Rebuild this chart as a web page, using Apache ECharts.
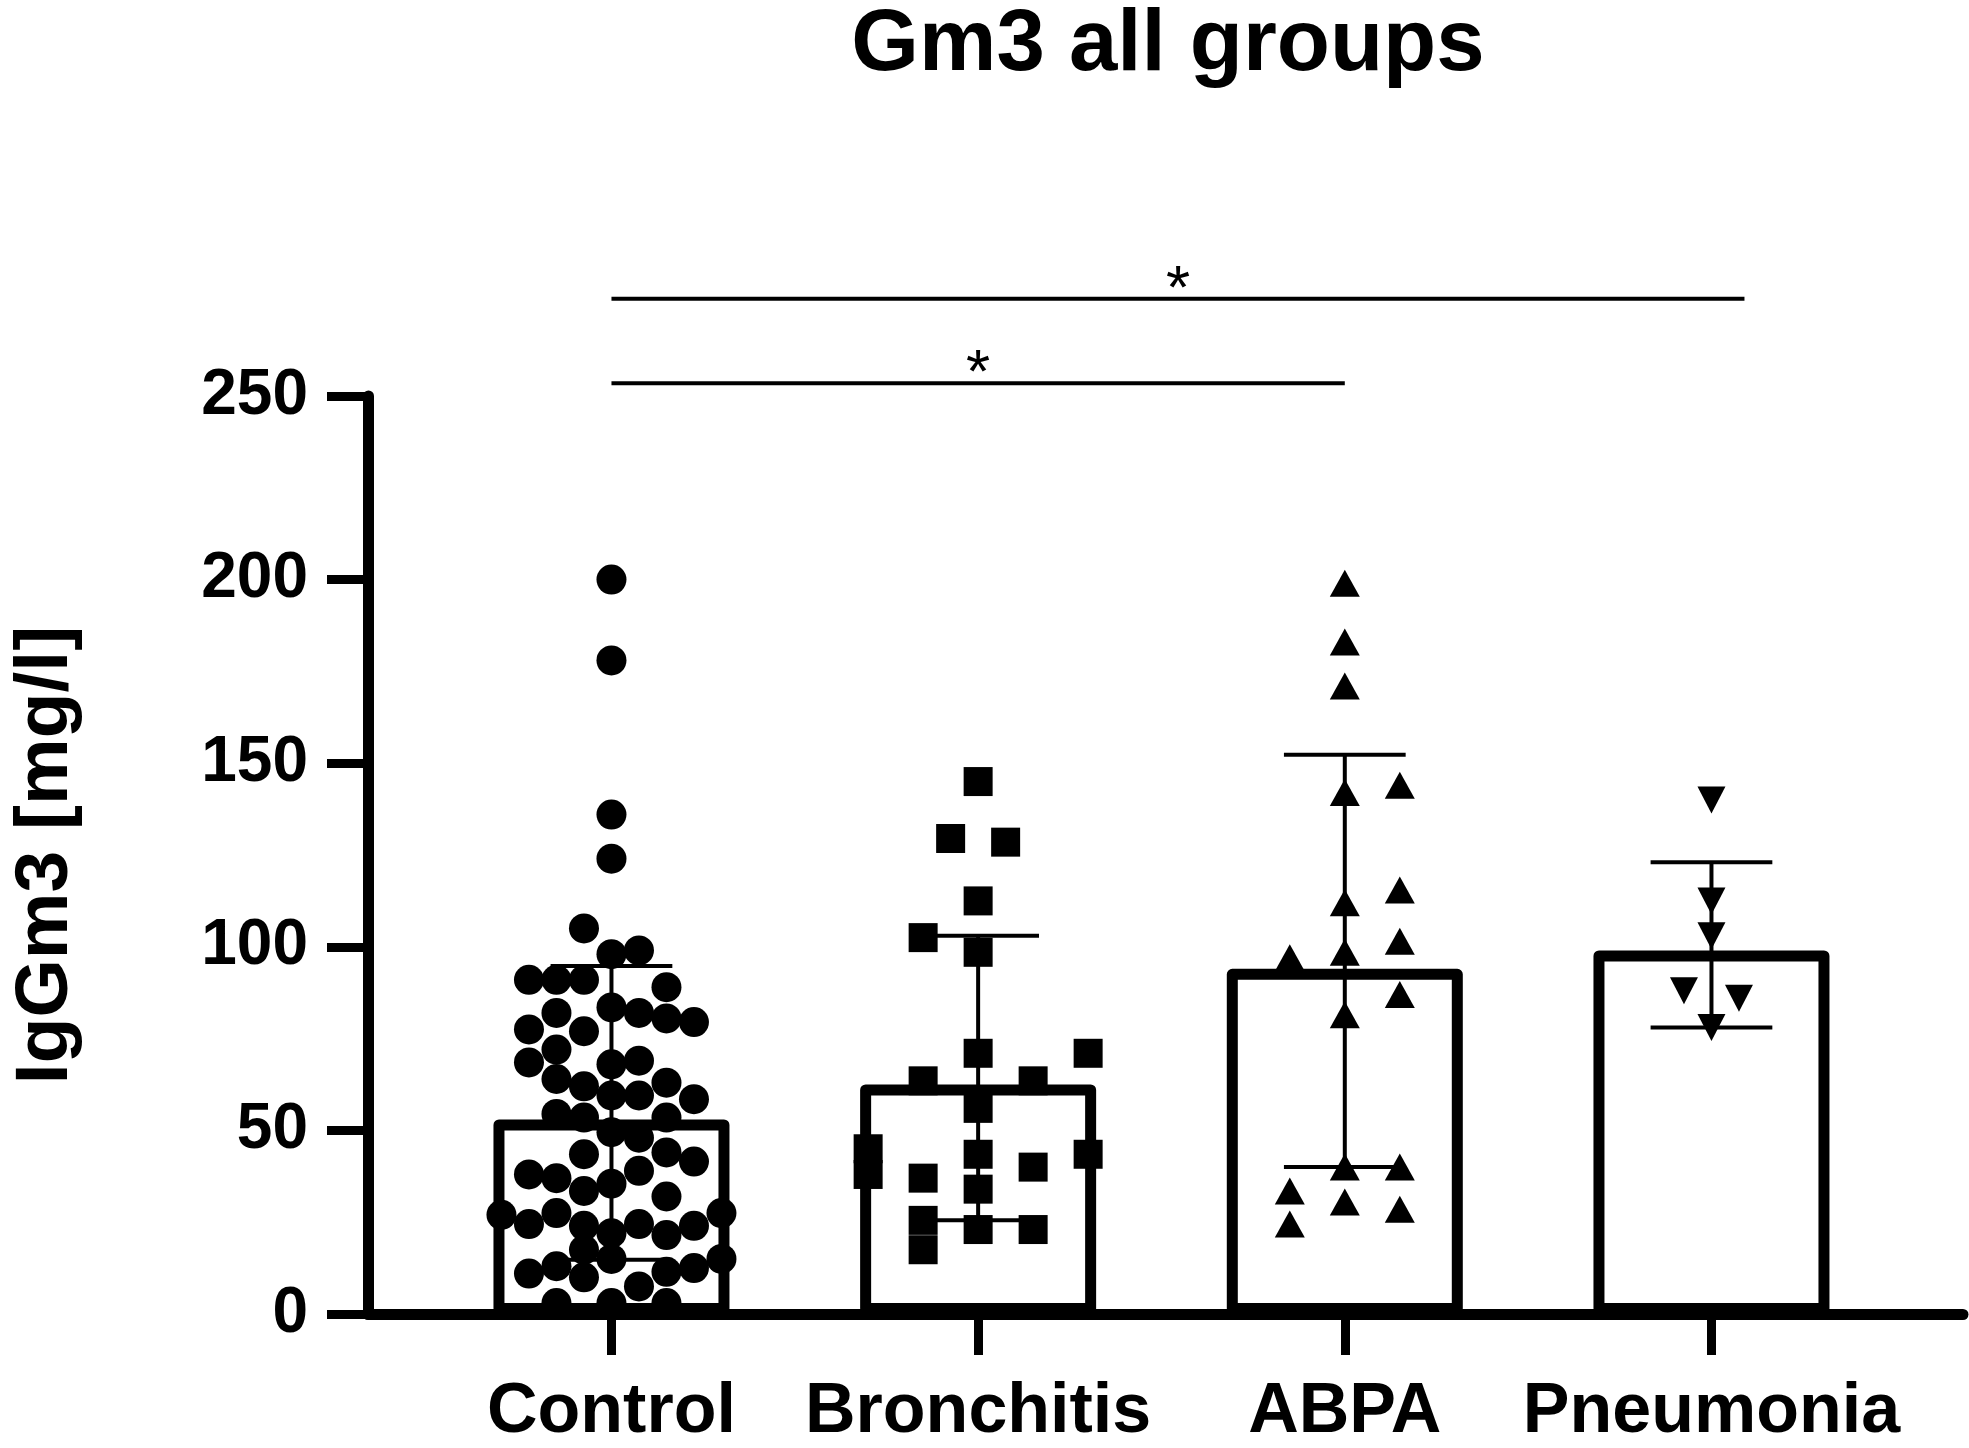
<!DOCTYPE html>
<html>
<head>
<meta charset="utf-8">
<title>Gm3 all groups</title>
<script src="https://cdn.jsdelivr.net/npm/echarts/dist/echarts.min.js"></script>
<style>
    html, body { margin: 0; padding: 0; background: #fff; }
    #echarts { width: 1969px; height: 1448px; }
</style>
</head>
<body>
<div id="echarts"></div>
<script>
    // groups on the x axis (value axis, one unit per group)
    var groups = ['Control', 'Bronchitis', 'ABPA', 'Pneumonia']
    var yTicks = [0, 50, 100, 150, 200, 250]

    // bar = mean, whiskers = lower / upper end of the error bar
    var means = [53, 62.5, 94, 99]
    var errLow = [14.8, 25.5, 40, 78]
    var errHigh = [94.8, 103, 152.3, 123]

    // individual points: [column slot, value]
    var controlPts = [
        [0, 200], [0, 178], [0, 136], [0, 124], [-1, 105],
        [0, 98], [1, 99],
        [-3, 91], [-2, 91], [-1, 91], [2, 89],
        [0, 83.5], [1, 82], [2, 80.5], [-2, 82], [3, 79.5],
        [-3, 77.5], [-1, 77], [-2, 72],
        [-3, 68.5], [0, 68], [1, 69],
        [-2, 64], [2, 63],
        [-1, 62], [0, 59.5], [1, 59.5], [3, 58.5],
        [-2, 54.5], [-1, 53.5], [2, 53.5],
        [0, 49.5], [1, 48],
        [-1, 43.5], [2, 44], [3, 41.5],
        [1, 39], [-3, 38], [-2, 37],
        [0, 35.5], [-1, 33.5], [2, 32],
        [-4, 27], [-3, 24.5], [-2, 27.5], [-1, 24], [0, 22], [1, 24.5], [2, 21.5], [3, 24], [4, 27.5],
        [-1, 17.5],
        [-3, 11], [-2, 13], [0, 15], [1, 7.5], [2, 11.5], [3, 12.5], [4, 15], [-1, 10],
        [-2, 3], [0, 3], [2, 3]
    ]
    var bronchitisPts = [
        [0, 145], [-1, 129.5], [1, 128.5], [0, 112.5], [-2, 102.5], [0, 98.5],
        [0, 71], [4, 71], [-2, 63.5], [2, 63.5], [0, 56],
        [-4, 45], [-4, 38], [0, 43.5], [-2, 37], [2, 40], [4, 43.5], [0, 34],
        [-2, 25.5], [-2, 17.5], [0, 23], [2, 23]
    ]
    var abpaPts = [
        [0, 199], [0, 183], [0, 171], [2, 144], [0, 142], [2, 115.5], [0, 112],
        [2, 101.5], [0, 98.5], [-2, 97], [2, 87], [0, 81.5],
        [0, 40], [2, 40], [-2, 33.5], [0, 30.5], [2, 28.5], [-2, 24.5]
    ]
    var pneumoniaPts = [
        [0, 140], [0, 112.5], [0, 103], [-1, 88], [1, 86], [0, 78]
    ]

    // significance brackets: [from group, to group, level]
    var sigLines = [
        [0, 3.09, 276.5],
        [0, 2, 253.5]
    ]
    var sigLabels = ['*', '*']

    var FONT = "'Liberation Sans', Arial, sans-serif"
    var SLOT = 0.075      // width of one point column, in group units
    var CAP = 0.166       // half width of the error bar caps

    var chart = echarts.init(document.getElementById('echarts'))

    var toXY = function (pts, gi) {
        return pts.map(function (p) {
            return [gi + p[0] * SLOT, p[1]]
        })
    }

    var pointSeries = function (name, pts, gi, symbol, size, rotate) {
        return {
            name: name,
            type: 'scatter',
            z: 5,
            symbol: symbol,
            symbolSize: size,
            symbolRotate: rotate || 0,
            itemStyle: { color: '#000', opacity: 1 },
            data: toXY(pts, gi)
        }
    }

    var option = {
        animation: false,
        backgroundColor: '#fff',
        title: {
            text: 'Gm3 all groups',
            left: 1163,
            top: -2,
            textAlign: 'center',
            textStyle: { fontFamily: FONT, fontSize: 87, fontWeight: 'bold', color: '#000' }
        },
        grid: { left: 368, right: 6, top: 396, bottom: 123 },
        xAxis: {
            type: 'value',
            min: -0.664,
            max: 3.686,
            splitLine: { show: false },
            axisLine: { onZero: false, lineStyle: { color: '#000', width: 11 } },
            axisTick: { customValues: [0, 1, 2, 3], length: 41, lineStyle: { color: '#000', width: 9 } },
            axisLabel: {
                customValues: [0, 1, 2, 3],
                margin: 64,
                formatter: function (v) { return groups[Math.round(v)] },
                fontFamily: FONT, fontSize: 70, fontWeight: 'bold', color: '#000'
            }
        },
        yAxis: {
            type: 'value',
            min: 0,
            max: 250,
            interval: 50,
            name: 'IgGm3 [mg/l]',
            nameLocation: 'middle',
            nameRotate: 90,
            nameGap: 284,
            nameTextStyle: { fontFamily: FONT, fontSize: 75, fontWeight: 'bold', color: '#000' },
            splitLine: { show: false },
            axisLine: { show: true, onZero: false, lineStyle: { color: '#000', width: 11 } },
            axisTick: { show: true, length: 41, lineStyle: { color: '#000', width: 9 } },
            axisLabel: {
                margin: 60,
                formatter: function (v) { return yTicks.indexOf(v) > -1 ? String(v) : '' },
                fontFamily: FONT, fontSize: 64, fontWeight: 'bold', color: '#000'
            }
        },
        series: [
            {
                name: 'mean',
                type: 'bar',
                z: 2,
                barWidth: 236,
                itemStyle: { color: '#fff', borderColor: '#000', borderWidth: 11, borderJoin: 'round' },
                data: means.map(function (m, i) { return [i, m] })
            },
            {
                name: 'error',
                type: 'custom',
                z: 3,
                encode: { x: 0, y: [1, 2] },
                renderItem: function (params, api) {
                    var x = api.value(0), lo = api.value(1), hi = api.value(2)
                    var pLo = api.coord([x, lo]), pHi = api.coord([x, hi])
                    var l1 = api.coord([x - CAP, hi]), r1 = api.coord([x + CAP, hi])
                    var l2 = api.coord([x - CAP, lo]), r2 = api.coord([x + CAP, lo])
                    var st = { stroke: '#000', lineWidth: 4 }
                    return {
                        type: 'group',
                        children: [
                            { type: 'line', shape: { x1: pLo[0], y1: pLo[1], x2: pHi[0], y2: pHi[1] }, style: st },
                            { type: 'line', shape: { x1: l1[0], y1: l1[1], x2: r1[0], y2: r1[1] }, style: st },
                            { type: 'line', shape: { x1: l2[0], y1: l2[1], x2: r2[0], y2: r2[1] }, style: st }
                        ]
                    }
                },
                data: groups.map(function (g, i) { return [i, errLow[i], errHigh[i]] })
            },
            pointSeries('Control', controlPts, 0, 'circle', 30),
            pointSeries('Bronchitis', bronchitisPts, 1, 'rect', 29),
            pointSeries('ABPA', abpaPts, 2, 'triangle', [30, 27]),
            pointSeries('Pneumonia', pneumoniaPts, 3, 'triangle', [28, 27], 180),
            {
                name: 'significance',
                type: 'custom',
                z: 4,
                clip: false,
                encode: { x: [0, 1], y: 2 },
                renderItem: function (params, api) {
                    var a = api.coord([api.value(0), api.value(2)])
                    var b = api.coord([api.value(1), api.value(2)])
                    return {
                        type: 'group',
                        children: [
                            { type: 'line', shape: { x1: a[0], y1: a[1], x2: b[0], y2: b[1] }, style: { stroke: '#000', lineWidth: 4 } },
                            {
                                type: 'text',
                                style: {
                                    text: sigLabels[params.dataIndex],
                                    x: (a[0] + b[0]) / 2,
                                    y: a[1] - 8,
                                    align: 'center',
                                    verticalAlign: 'middle',
                                    font: '62px ' + FONT,
                                    fill: '#000'
                                }
                            }
                        ]
                    }
                },
                data: sigLines
            }
        ]
    }

    chart.setOption(option)
</script>
</body>
</html>
